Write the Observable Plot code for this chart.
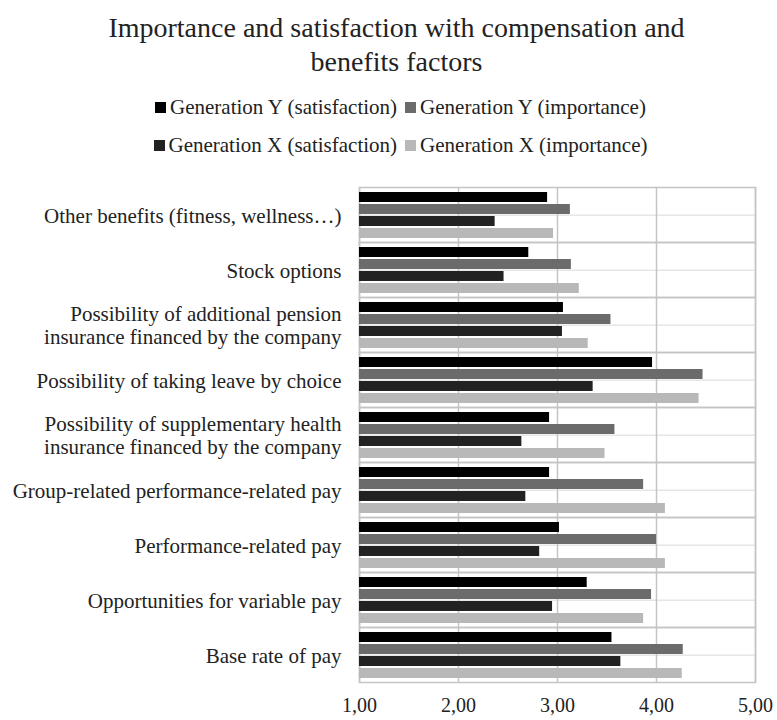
<!DOCTYPE html>
<html>
<head>
<meta charset="utf-8">
<script src="https://cdn.jsdelivr.net/npm/d3@7"></script>
<script src="https://cdn.jsdelivr.net/npm/@observablehq/plot@0.6"></script>
<style>
  body { margin: 0; background: #fff; font-family: "Liberation Serif", "Times New Roman", serif; color: #222; }
  #wrap { width: 777px; }
  .title { text-align: center; font-size: 28px; line-height: 34px; padding-top: 11px; padding-left: 16px; }
  .legend { margin-top: 9px; padding-left: 24px; }
  .legend .row { display: flex; justify-content: center; height: 38px; line-height: 38px; font-size: 21px; }
  .legend .item { display: flex; align-items: center; margin: 0 4px; }
  .legend .sw { width: 11px; height: 11px; margin-right: 4px; }
  svg { display: block; }
</style>
</head>
<body>
<div id="wrap">
  <div class="title">Importance and satisfaction with compensation and<br>benefits factors</div>
  <div class="legend" id="legend"></div>
  <div id="chart"></div>
</div>
<script>
const categories = [
  "Other benefits (fitness, wellness…)",
  "Stock options",
  "Possibility of additional pension\ninsurance financed by the company",
  "Possibility of taking leave by choice",
  "Possibility of supplementary health\ninsurance financed by the company",
  "Group-related performance-related pay",
  "Performance-related pay",
  "Opportunities for variable pay",
  "Base rate of pay"
];
const series = [
  "Generation Y (satisfaction)",
  "Generation Y (importance)",
  "Generation X (satisfaction)",
  "Generation X (importance)"
];
const genYSatisfaction = [2.90, 2.71, 3.06, 3.96, 2.92, 2.92, 3.02, 3.30, 3.55];
const genYImportance   = [3.13, 3.14, 3.54, 4.47, 3.58, 3.87, 4.00, 3.95, 4.27];
const genXSatisfaction = [2.37, 2.46, 3.05, 3.36, 2.64, 2.68, 2.82, 2.95, 3.64];
const genXImportance   = [2.96, 3.22, 3.31, 4.43, 3.48, 4.09, 4.09, 3.87, 4.26];
const xTicks = [1, 2, 3, 4, 5];
const baseline = 1;
const colors = ["#000000", "#6b6b6b", "#222222", "#b8b8b8"];

const seriesValues = [genYSatisfaction, genYImportance, genXSatisfaction, genXImportance];
const data = [];
categories.forEach((c, i) => {
  series.forEach((s, j) => data.push({category: c, series: s, value: seriesValues[j][i]}));
});
const midRows = categories.map(c => ({category: c, series: series[2]}));

// legend (two rows, two items each)
const legend = document.getElementById("legend");
[[0, 1], [2, 3]].forEach(pair => {
  const row = document.createElement("div");
  row.className = "row";
  pair.forEach(k => {
    const it = document.createElement("div");
    it.className = "item";
    it.innerHTML = `<span class="sw" style="background:${colors[k]}"></span><span>${series[k]}</span>`;
    row.appendChild(it);
  });
  legend.appendChild(row);
});

const W = 777, H = 556, mT = 21, mB = 36, mL = 359, mR = 22;
const pIn = 0.19, pOut = 0.35;
const facetH = (H - mT - mB) / categories.length;
const step = facetH / (series.length - pIn + 2 * pOut);

const chart = Plot.plot({
  width: W, height: H,
  marginLeft: mL, marginRight: mR, marginTop: mT, marginBottom: mB,
  style: {fontFamily: "Liberation Serif, Times New Roman, serif", fontSize: "20px", color: "#222", background: "white"},
  x: {domain: [1, 5], axis: null},
  y: {domain: series, axis: null, paddingInner: pIn, paddingOuter: pOut},
  fy: {domain: categories, padding: 0, axis: null},
  color: {domain: series, range: colors},
  marks: [
    Plot.ruleY(midRows, {fy: "category", y: "series", dy: -step / 2, stroke: "#e6e6e6", strokeWidth: 1.5}),
    Plot.gridX({ticks: xTicks, stroke: "#c4c4c4", strokeOpacity: 1, strokeWidth: 1.5}),
    Plot.frame({stroke: "#c4c4c4", strokeWidth: 1.5}),
    Plot.barX(data, {fy: "category", y: "series", x1: () => baseline, x2: "value", fill: "series"}),
    Plot.axisFy({anchor: "left", tickSize: 0, tickPadding: 18, label: null, fontSize: 21, lineHeight: 1.12, fill: "#222"}),
    Plot.axisX({ticks: xTicks, anchor: "bottom", tickSize: 0, tickPadding: 15, label: null, fontSize: 20, fill: "#222",
      tickFormat: d => d.toFixed(2).replace(".", ",")})
  ]
});
document.getElementById("chart").appendChild(chart);
</script>
</body>
</html>
